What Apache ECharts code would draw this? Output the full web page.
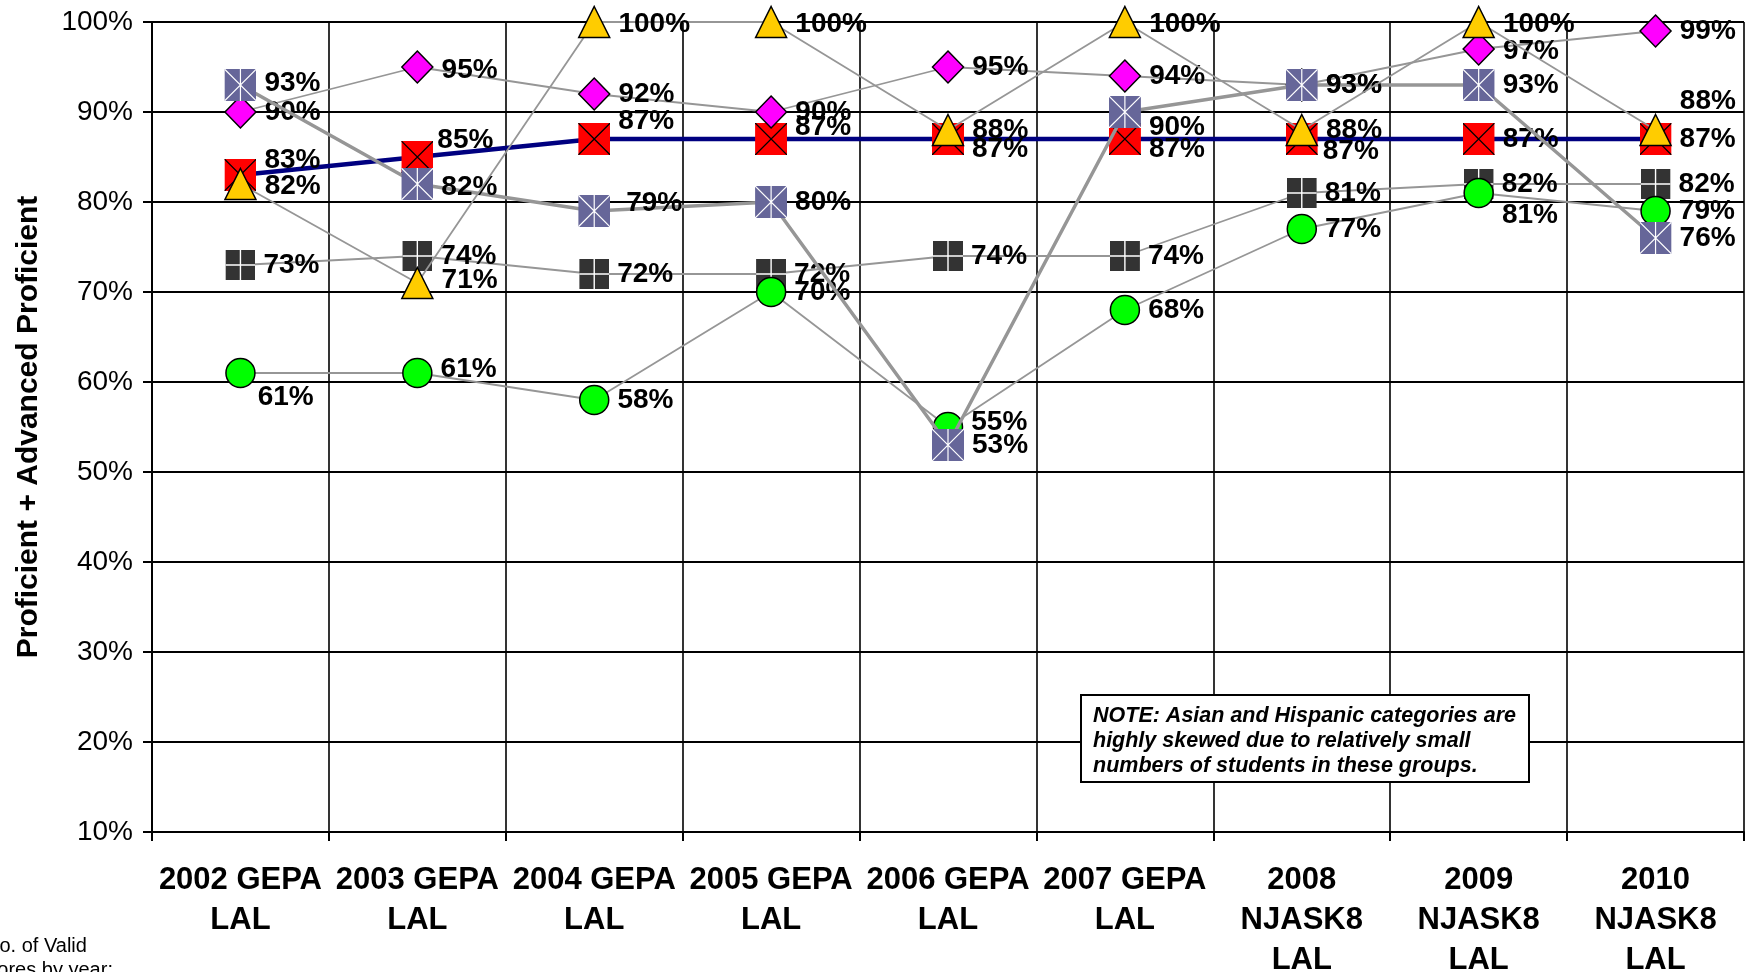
<!DOCTYPE html>
<html>
<head>
<meta charset="utf-8">
<title>LAL Proficient + Advanced Proficient by Subgroup</title>
<script src="https://cdn.jsdelivr.net/npm/echarts@6/dist/echarts.min.js"></script>
<style>
  html, body { margin: 0; padding: 0; background: #ffffff; }
  #chart { width: 1747px; height: 972px; }
</style>
</head>
<body>
<div id="chart"></div>
<script>
// ---- Data -------------------------------------------------------------
const categories = [
  '2002 GEPA\nLAL', '2003 GEPA\nLAL', '2004 GEPA\nLAL', '2005 GEPA\nLAL',
  '2006 GEPA\nLAL', '2007 GEPA\nLAL', '2008\nNJASK8\nLAL', '2009\nNJASK8\nLAL',
  '2010\nNJASK8\nLAL'
];
const totalPct    = [83, 85, 87, 87, 87, 87, 87, 87, 87];
const econPct     = [73, 74, 72, 72, 74, 74, 81, 82, 82];
const blackPct    = [61, 61, 58, 70, 55, 68, 77, 81, 79];
const whitePct    = [90, 95, 92, 90, 95, 94, 93, 97, 99];
const hispanicPct = [93, 82, 79, 80, 53, 90, 93, 93, 76];
const asianPct    = [82, 71, 100, 100, 88, 100, 88, 100, 88];

const yAxisMin = 10;
const yAxisMax = 100;
const yAxisStep = 10;

// ---- Label nudges (px) so crowded value labels stay readable ------------
const labelNudge = {
  total:    [[0, -15], [-4, -17], [0, -18], [0, -12], [0, 10], [0, 10], [-3, 12], [0, 0], [0, 0]],
  econ:     [[0, 0], [0, 0], [0, 0], [0, 0], [0, 0], [0, 0], [0, 0], [0, 0], [0, 0]],
  black:    [[-6, 24], [0, -4], [0, 0], [0, 0], [0, -5], [0, 0], [0, 0], [0, 22], [0, 0]],
  white:    [[0, 0], [0, 3], [0, 0], [0, 0], [0, 0], [0, 0], [0, 0], [0, 2], [0, 0]],
  hispanic: [[0, -2], [0, 3], [8, -8], [0, 0], [0, 0], [0, 15], [0, 0], [0, 0], [0, 0]],
  asian:    [[0, 2], [0, -3], [0, 2], [0, 2], [0, 0], [0, 2], [0, 0], [0, 2], [0, -29]]
};

// ---- Styling ------------------------------------------------------------
const FONT = '"Liberation Sans", Arial, Helvetica, sans-serif';

function svgSymbol(svg) {
  return 'image://data:image/svg+xml;base64,' + btoa(svg);
}
const SVG_HEAD = '<svg xmlns="http://www.w3.org/2000/svg" width="64" height="64" viewBox="0 0 32 32">';
const redCross = svgSymbol(SVG_HEAD +
  '<rect x="0" y="0" width="32" height="32" fill="#FF0000"/>' +
  '<path d="M0 0L32 32M32 0L0 32" stroke="#000" stroke-width="1.3" fill="none"/></svg>');
const slateStar = svgSymbol(SVG_HEAD +
  '<rect x="0" y="0" width="32" height="32" fill="#666699"/>' +
  '<path d="M0 0L32 32M32 0L0 32M16 0V32" stroke="#fff" stroke-width="1.2" fill="none"/></svg>');
const darkPlus = svgSymbol(SVG_HEAD +
  '<rect x="0" y="0" width="32" height="32" fill="#333333"/>' +
  '<path d="M16 0V32M0 16H32" stroke="#fff" stroke-width="1.5" fill="none"/></svg>');

function buildData(values, nudges) {
  return values.map((v, i) => ({ value: v, label: { offset: nudges[i] } }));
}

function lineSeries(opts) {
  return {
    name: opts.name,
    type: 'line',
    data: buildData(opts.values, opts.nudges),
    symbol: opts.symbol,
    symbolSize: opts.size,
    z: opts.z,
    lineStyle: { color: opts.lineColor, width: opts.lineWidth },
    itemStyle: { color: opts.fill || '#999', borderColor: '#000', borderWidth: opts.border || 0 },
    label: {
      show: true,
      position: 'right',
      distance: 8,
      formatter: '{c}%',
      fontFamily: FONT,
      fontSize: 28,
      fontWeight: 'bold',
      color: '#000'
    },
    emphasis: { disabled: true },
    animation: false
  };
}

const series = [
  lineSeries({ name: 'Total', values: totalPct, nudges: labelNudge.total,
    symbol: redCross, size: 32, lineColor: '#000080', lineWidth: 4.5, z: 2 }),
  lineSeries({ name: 'Economically Disadvantaged', values: econPct, nudges: labelNudge.econ,
    symbol: darkPlus, size: 30, lineColor: '#969696', lineWidth: 1.8, z: 3 }),
  lineSeries({ name: 'Black', values: blackPct, nudges: labelNudge.black,
    symbol: 'circle', size: 29, fill: '#00FF00', border: 1.5, lineColor: '#969696', lineWidth: 1.8, z: 4 }),
  lineSeries({ name: 'White', values: whitePct, nudges: labelNudge.white,
    symbol: 'diamond', size: [31, 32], fill: '#FF00FF', border: 1.5, lineColor: '#969696', lineWidth: 1.8, z: 5 }),
  lineSeries({ name: 'Hispanic', values: hispanicPct, nudges: labelNudge.hispanic,
    symbol: slateStar, size: 32, lineColor: '#969696', lineWidth: 3.5, z: 6 }),
  lineSeries({ name: 'Asian', values: asianPct, nudges: labelNudge.asian,
    symbol: 'triangle', size: [31, 31], fill: '#FFCC00', border: 1.5, lineColor: '#969696', lineWidth: 1.8, z: 7 })
];

const chart = echarts.init(document.getElementById('chart'), null, { renderer: 'canvas' });

chart.setOption({
  backgroundColor: '#ffffff',
  animation: false,
  grid: { left: 152, right: 3, top: 22, bottom: 140, containLabel: false, outerBoundsMode: 'none' },
  xAxis: {
    type: 'category',
    data: categories,
    boundaryGap: true,
    axisLine: { show: true, lineStyle: { color: '#000', width: 2 } },
    axisTick: { show: true, length: 9, alignWithLabel: false, lineStyle: { color: '#000', width: 2 } },
    splitLine: { show: true, lineStyle: { color: '#000', width: 1.6 } },
    axisLabel: {
      interval: 0,
      margin: 28,
      fontFamily: FONT,
      fontSize: 31,
      fontWeight: 'bold',
      lineHeight: 40,
      color: '#000'
    }
  },
  yAxis: {
    type: 'value',
    min: yAxisMin,
    max: yAxisMax,
    interval: yAxisStep,
    name: 'Proficient + Advanced Proficient',
    nameLocation: 'middle',
    nameGap: 108,
    nameTextStyle: { fontFamily: FONT, fontSize: 30, fontWeight: 'bold', color: '#000' },
    axisLine: { show: true, lineStyle: { color: '#000', width: 2 } },
    axisTick: { show: true, length: 9, lineStyle: { color: '#000', width: 2 } },
    splitLine: { show: true, lineStyle: { color: '#000', width: 2 } },
    axisLabel: {
      margin: 19,
      formatter: '{value}%',
      fontFamily: FONT,
      fontSize: 28,
      color: '#000'
    }
  },
  graphic: [
    {
      type: 'group',
      left: 1080,
      top: 694,
      z: 100,
      children: [
        {
          type: 'rect',
          z: 100,
          shape: { x: 0, y: 0, width: 448, height: 87 },
          style: { fill: '#ffffff', stroke: '#000', lineWidth: 2 }
        },
        {
          type: 'text',
          z: 101,
          x: 12,
          y: 9,
          style: {
            text: 'NOTE: Asian and Hispanic categories are\nhighly skewed due to relatively small\nnumbers of students in these groups.',
            font: 'italic bold 21.5px ' + FONT,
            lineHeight: 25,
            fill: '#000',
            textVerticalAlign: 'top'
          }
        }
      ]
    },
    {
      type: 'text',
      x: -15,
      y: 946,
      style: {
        text: 'No. of Valid',
        font: '20px ' + FONT,
        fill: '#000',
        textVerticalAlign: 'middle'
      }
    },
    {
      type: 'text',
      x: -26,
      y: 970,
      style: {
        text: 'Scores by year:',
        font: '20px ' + FONT,
        fill: '#000',
        textVerticalAlign: 'middle'
      }
    }
  ],
  series: series
});
</script>
</body>
</html>
